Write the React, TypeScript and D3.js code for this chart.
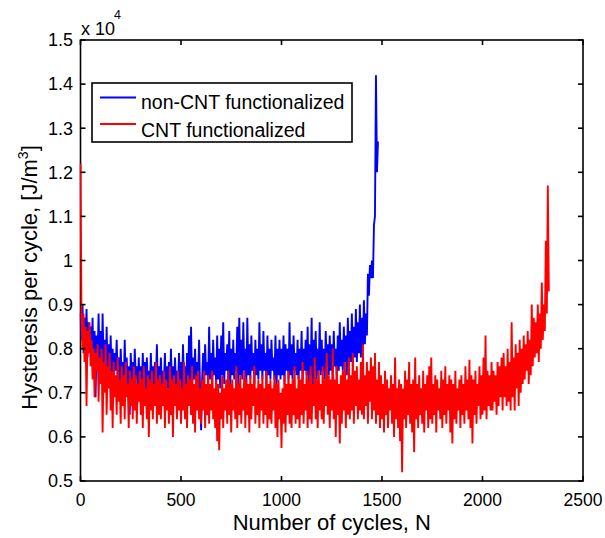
import React from 'react';
import * as d3 from 'd3';

// cycles are sampled every STEP cycles, starting at cycle 0
const STEP = 5;

// Hysteresis per cycle [J/m^3], non-CNT functionalized (blue), cycles 0..1480
const blueValues = [
  8800, 8200, 9000, 7900, 8700, 8100, 8900, 7800, 8600, 8000,
  8500, 7700, 8700, 7500, 8400, 6900, 8300, 7700, 8800, 7600,
  8400, 7400, 8800, 7600, 8200, 7300, 8500, 7500, 8100, 7200,
  8300, 7400, 8000, 7100, 7900, 7500, 8200, 7300, 7800, 7100,
  8000, 7300, 7700, 7000, 8200, 7200, 7800, 6900, 7600, 6500,
  7900, 7200, 7700, 7000, 8000, 7300, 7600, 7100, 7800, 7000,
  7600, 7100, 7900, 7000, 7700, 6900, 7800, 7200, 7500, 7000,
  7900, 7100, 7600, 6800, 7700, 7200, 8100, 7000, 7600, 7100,
  7800, 7000, 7500, 7200, 7900, 6900, 7600, 7100, 7700, 7000,
  8000, 7100, 7600, 6900, 7800, 7200, 7500, 7000, 7900, 7100,
  7700, 7000, 8100, 7200, 7600, 6900, 7900, 7100, 8300, 7200,
  8500, 7100, 7800, 7300, 8000, 7000, 7700, 7200, 8200, 7000,
  6150, 7300, 7900, 7100, 8100, 7400, 7700, 7200, 8500, 7300,
  7900, 7100, 8200, 7400, 7800, 7200, 8300, 7300, 8000, 7100,
  8300, 7400, 8600, 7200, 7900, 7500, 8100, 7300, 8400, 7200,
  8000, 7400, 8200, 7300, 7900, 7500, 8500, 7200, 8700, 7400,
  8200, 7300, 8600, 7500, 8000, 7200, 8700, 7400, 8100, 7300,
  8300, 7500, 7900, 7200, 8200, 7400, 8000, 7300, 8600, 7500,
  8100, 7300, 8400, 7500, 7900, 7200, 8300, 7400, 8000, 7300,
  8200, 7500, 7800, 7300, 8300, 7100, 8000, 7400, 8200, 7300,
  8000, 7400, 8300, 7200, 8100, 7500, 8000, 7300, 8600, 7400,
  8100, 7300, 8300, 7500, 7900, 7400, 8200, 7300, 8000, 7500,
  8400, 7300, 8000, 7500, 8200, 7400, 8500, 7200, 8100, 7400,
  8700, 6800, 8200, 7500, 8400, 7300, 8000, 7500, 8600, 7400,
  8200, 7500, 8000, 7300, 8400, 7600, 8100, 7400, 8300, 7500,
  8100, 7400, 8400, 7600, 8000, 7300, 8300, 7500, 8600, 7600,
  8200, 7500, 8500, 7700, 8300, 7400, 8700, 7600, 8400, 7700,
  8800, 7600, 8500, 7800, 8900, 7700, 8600, 7900, 9000, 7800,
  8700, 8000, 9100, 8100, 8800, 8300, 9700, 9200, 9900, 9600,
  10000, 9600, 10800, 11000, 14200, 12000, 12700,
];

// Hysteresis per cycle [J/m^3], CNT functionalized (red), cycles 0..2330
const redValues = [
  12200, 8700, 8000, 8800, 7700, 8500, 6700, 8400, 7900, 8600,
  7600, 8200, 7300, 8000, 6900, 7900, 7500, 8100, 6800, 7800,
  7200, 8000, 6100, 7700, 7000, 8100, 6500, 7600, 7100, 7900,
  6600, 7500, 6200, 7700, 6900, 7400, 6500, 7800, 6800, 7300,
  6300, 7600, 6700, 7400, 6400, 7700, 6900, 7200, 6200, 7500,
  6700, 7300, 6400, 7600, 6600, 7400, 6300, 7200, 6800, 7500,
  6500, 7300, 6200, 7600, 6700, 7100, 6400, 7400, 6000, 7300,
  6600, 7500, 6400, 7200, 6700, 7700, 6300, 7300, 6500, 7400,
  6400, 7200, 6700, 7500, 6200, 7300, 6600, 7100, 6300, 7600,
  6500, 7300, 6000, 7400, 6700, 7200, 6400, 7500, 6600, 7300,
  6300, 7100, 6600, 7700, 6400, 7200, 6200, 7400, 6700, 7300,
  6500, 7600, 6300, 7200, 6100, 7400, 6600, 7500, 6400, 7100,
  6300, 7300, 6600, 7500, 6200, 7200, 6500, 7400, 6300, 7200,
  6600, 7500, 6400, 7100, 6200, 7300, 5900, 7200, 5700, 7000,
  6400, 7400, 6200, 7100, 6600, 7300, 6300, 7500, 6500, 7200,
  6100, 7300, 6600, 7100, 6400, 7600, 6200, 7200, 6500, 7400,
  6300, 7100, 6600, 7500, 6200, 7300, 6500, 7200, 6100, 7400,
  6400, 7200, 6700, 7600, 6300, 7100, 6500, 7300, 6200, 7200,
  6600, 7400, 6300, 7100, 6500, 7500, 6200, 7200, 6400, 7300,
  6300, 7100, 6600, 7400, 6200, 7200, 6000, 7300, 6400, 7000,
  5750, 7100, 6300, 7400, 6100, 7200, 6500, 7500, 6300, 7200,
  6200, 7300, 6500, 7600, 6300, 7100, 6400, 7400, 6200, 7300,
  6500, 7700, 6300, 7200, 6600, 7500, 6200, 7300, 6400, 7600,
  6300, 7200, 6700, 7800, 6400, 7300, 6200, 7500, 6600, 7200,
  6400, 7600, 6300, 7300, 6700, 7900, 6500, 7400, 6200, 7300,
  6600, 8000, 6400, 7300, 6000, 7600, 6500, 7200, 5850, 7400,
  6300, 7500, 6600, 7700, 6200, 7300, 6500, 7800, 6400, 7400,
  6600, 7900, 6300, 7500, 6700, 7600, 6400, 7300, 6600, 7700,
  6500, 8100, 6400, 7400, 6700, 7700, 6300, 7500, 6800, 7800,
  6400, 7600, 6600, 7900, 6300, 7300, 6500, 7700, 6200, 7400,
  6400, 7200, 6100, 7500, 6500, 7300, 6200, 7100, 6600, 7400,
  6300, 7200, 6000, 7800, 6400, 7100, 6200, 7300, 5900, 7200,
  5200, 7100, 6400, 7500, 6200, 7300, 6500, 7700, 6300, 7200,
  6100, 7300, 5650, 7800, 6400, 7200, 6200, 7400, 6500, 7100,
  6300, 7500, 6100, 7200, 6600, 7400, 6200, 7600, 6400, 7800,
  6300, 7200, 6500, 7400, 6100, 7300, 6600, 7100, 6400, 7500,
  6200, 7300, 6500, 7600, 6300, 7200, 6600, 7400, 6100, 7300,
  5850, 7200, 6400, 7500, 6300, 7100, 6600, 7300, 6200, 7400,
  6500, 7200, 6300, 7600, 6600, 7300, 6400, 7750, 6200, 7400,
  5850, 7300, 6500, 7500, 6300, 7200, 6700, 7600, 6400, 7400,
  6500, 7800, 6600, 8300, 6400, 7500, 6700, 7400, 6600, 7700,
  6600, 7500, 6800, 7400, 6500, 7700, 6700, 7600, 6900, 7800,
  6600, 7900, 6900, 7600, 6700, 8000, 6800, 7700, 6600, 8600,
  6900, 7800, 6600, 8100, 7100, 7900, 6700, 8200, 7000, 8000,
  7200, 8300, 7300, 8100, 7500, 8400, 7200, 8200, 7400, 9000,
  7600, 8700, 7800, 8600, 7900, 9000, 7700, 8800, 8000, 9500,
  8200, 9000, 8400, 10450, 8800, 11700, 9300,
];

const xTicks = [0, 500, 1000, 1500, 2000, 2500];
const xTickLabels = ['0', '500', '1000', '1500', '2000', '2500'];
const yTicks = [5000, 6000, 7000, 8000, 9000, 10000, 11000, 12000, 13000, 14000, 15000];
const yTickLabels = ['0.5', '0.6', '0.7', '0.8', '0.9', '1', '1.1', '1.2', '1.3', '1.4', '1.5'];
const seriesNames = ['non-CNT functionalized', 'CNT functionalized'];
const seriesColors = ['#0000ff', '#ff0000'];

const FONT = '"Liberation Sans", Arial, Helvetica, sans-serif';

export default function App() {
  const W = 605;
  const H = 538;
  const L = 80.5, R = 583, T = 40, B = 481;
  const x = d3.scaleLinear().domain([0, 2500]).range([L, R]);
  const y = d3.scaleLinear().domain([5000, 15000]).range([B, T]);
  const line = d3
    .line<number>()
    .x((_, i) => x(i * STEP))
    .y((d) => y(d));
  const series = [blueValues, redValues];
  const tickLen = 5;

  return (
    <svg
      width={W}
      height={H}
      style={{ position: 'absolute', left: 0, top: 0, background: '#fff' }}
      fontFamily={FONT}
    >
      <rect x={0} y={0} width={W} height={H} fill="#fff" />
      <defs>
        <clipPath id="plotclip">
          <rect x={L - 1} y={T} width={R - L + 1} height={B - T} />
        </clipPath>
      </defs>
      {/* axes box */}
      <rect x={L} y={T} width={R - L} height={B - T} fill="none" stroke="#000" strokeWidth={1.6} />
      <g clipPath="url(#plotclip)">
        {series.map((vals, k) => (
          <path
            key={k}
            d={line(vals) || ''}
            fill="none"
            stroke={seriesColors[k]}
            strokeWidth={1.9}
            strokeLinejoin="bevel"
          />
        ))}
      </g>
      {xTicks.map((t, i) => (
        <g key={'xt' + i}>
          <line x1={x(t)} x2={x(t)} y1={B} y2={B - tickLen} stroke="#000" strokeWidth={1.6} />
          <line x1={x(t)} x2={x(t)} y1={T} y2={T + tickLen} stroke="#000" strokeWidth={1.6} />
          <text x={x(t)} y={506} fontSize={17.5} textAnchor="middle" fill="#000">
            {xTickLabels[i]}
          </text>
        </g>
      ))}
      {yTicks.map((t, i) => (
        <g key={'yt' + i}>
          <line x1={L} x2={L + tickLen} y1={y(t)} y2={y(t)} stroke="#000" strokeWidth={1.6} />
          <line x1={R} x2={R - tickLen} y1={y(t)} y2={y(t)} stroke="#000" strokeWidth={1.6} />
          <text x={73} y={y(t) + 6.3} fontSize={18} textAnchor="end" fill="#000">
            {yTickLabels[i]}
          </text>
        </g>
      ))}
      {/* exponent */}
      <text x={81} y={35} fontSize={18} fill="#000">
        x 10
      </text>
      <text x={114} y={19} fontSize={12.5} fill="#000">
        4
      </text>
      {/* x label */}
      <text x={(L + R) / 2} y={530} fontSize={22} textAnchor="middle" fill="#000">
        Number of cycles, N
      </text>
      {/* y label */}
      <text
        transform={`translate(37, ${(T + B) / 2 + 17}) rotate(-90)`}
        fontSize={22}
        textAnchor="middle"
        fill="#000"
      >
        Hysteresis per cycle, [J/m
        <tspan fontSize={14} dy={-9}>3</tspan>
        <tspan dy={9}>]</tspan>
      </text>
      {/* legend */}
      <rect x={92} y={83} width={260} height={59} fill="#fff" stroke="#000" strokeWidth={1.6} />
      {seriesNames.map((name, k) => (
        <g key={'lg' + k}>
          <line
            x1={100}
            x2={136}
            y1={k === 0 ? 97.5 : 124}
            y2={k === 0 ? 97.5 : 124}
            stroke={seriesColors[k]}
            strokeWidth={1.8}
          />
          <text x={141} y={k === 0 ? 108.5 : 137} fontSize={19.5} fill="#000">
            {name}
          </text>
        </g>
      ))}
    </svg>
  );
}
